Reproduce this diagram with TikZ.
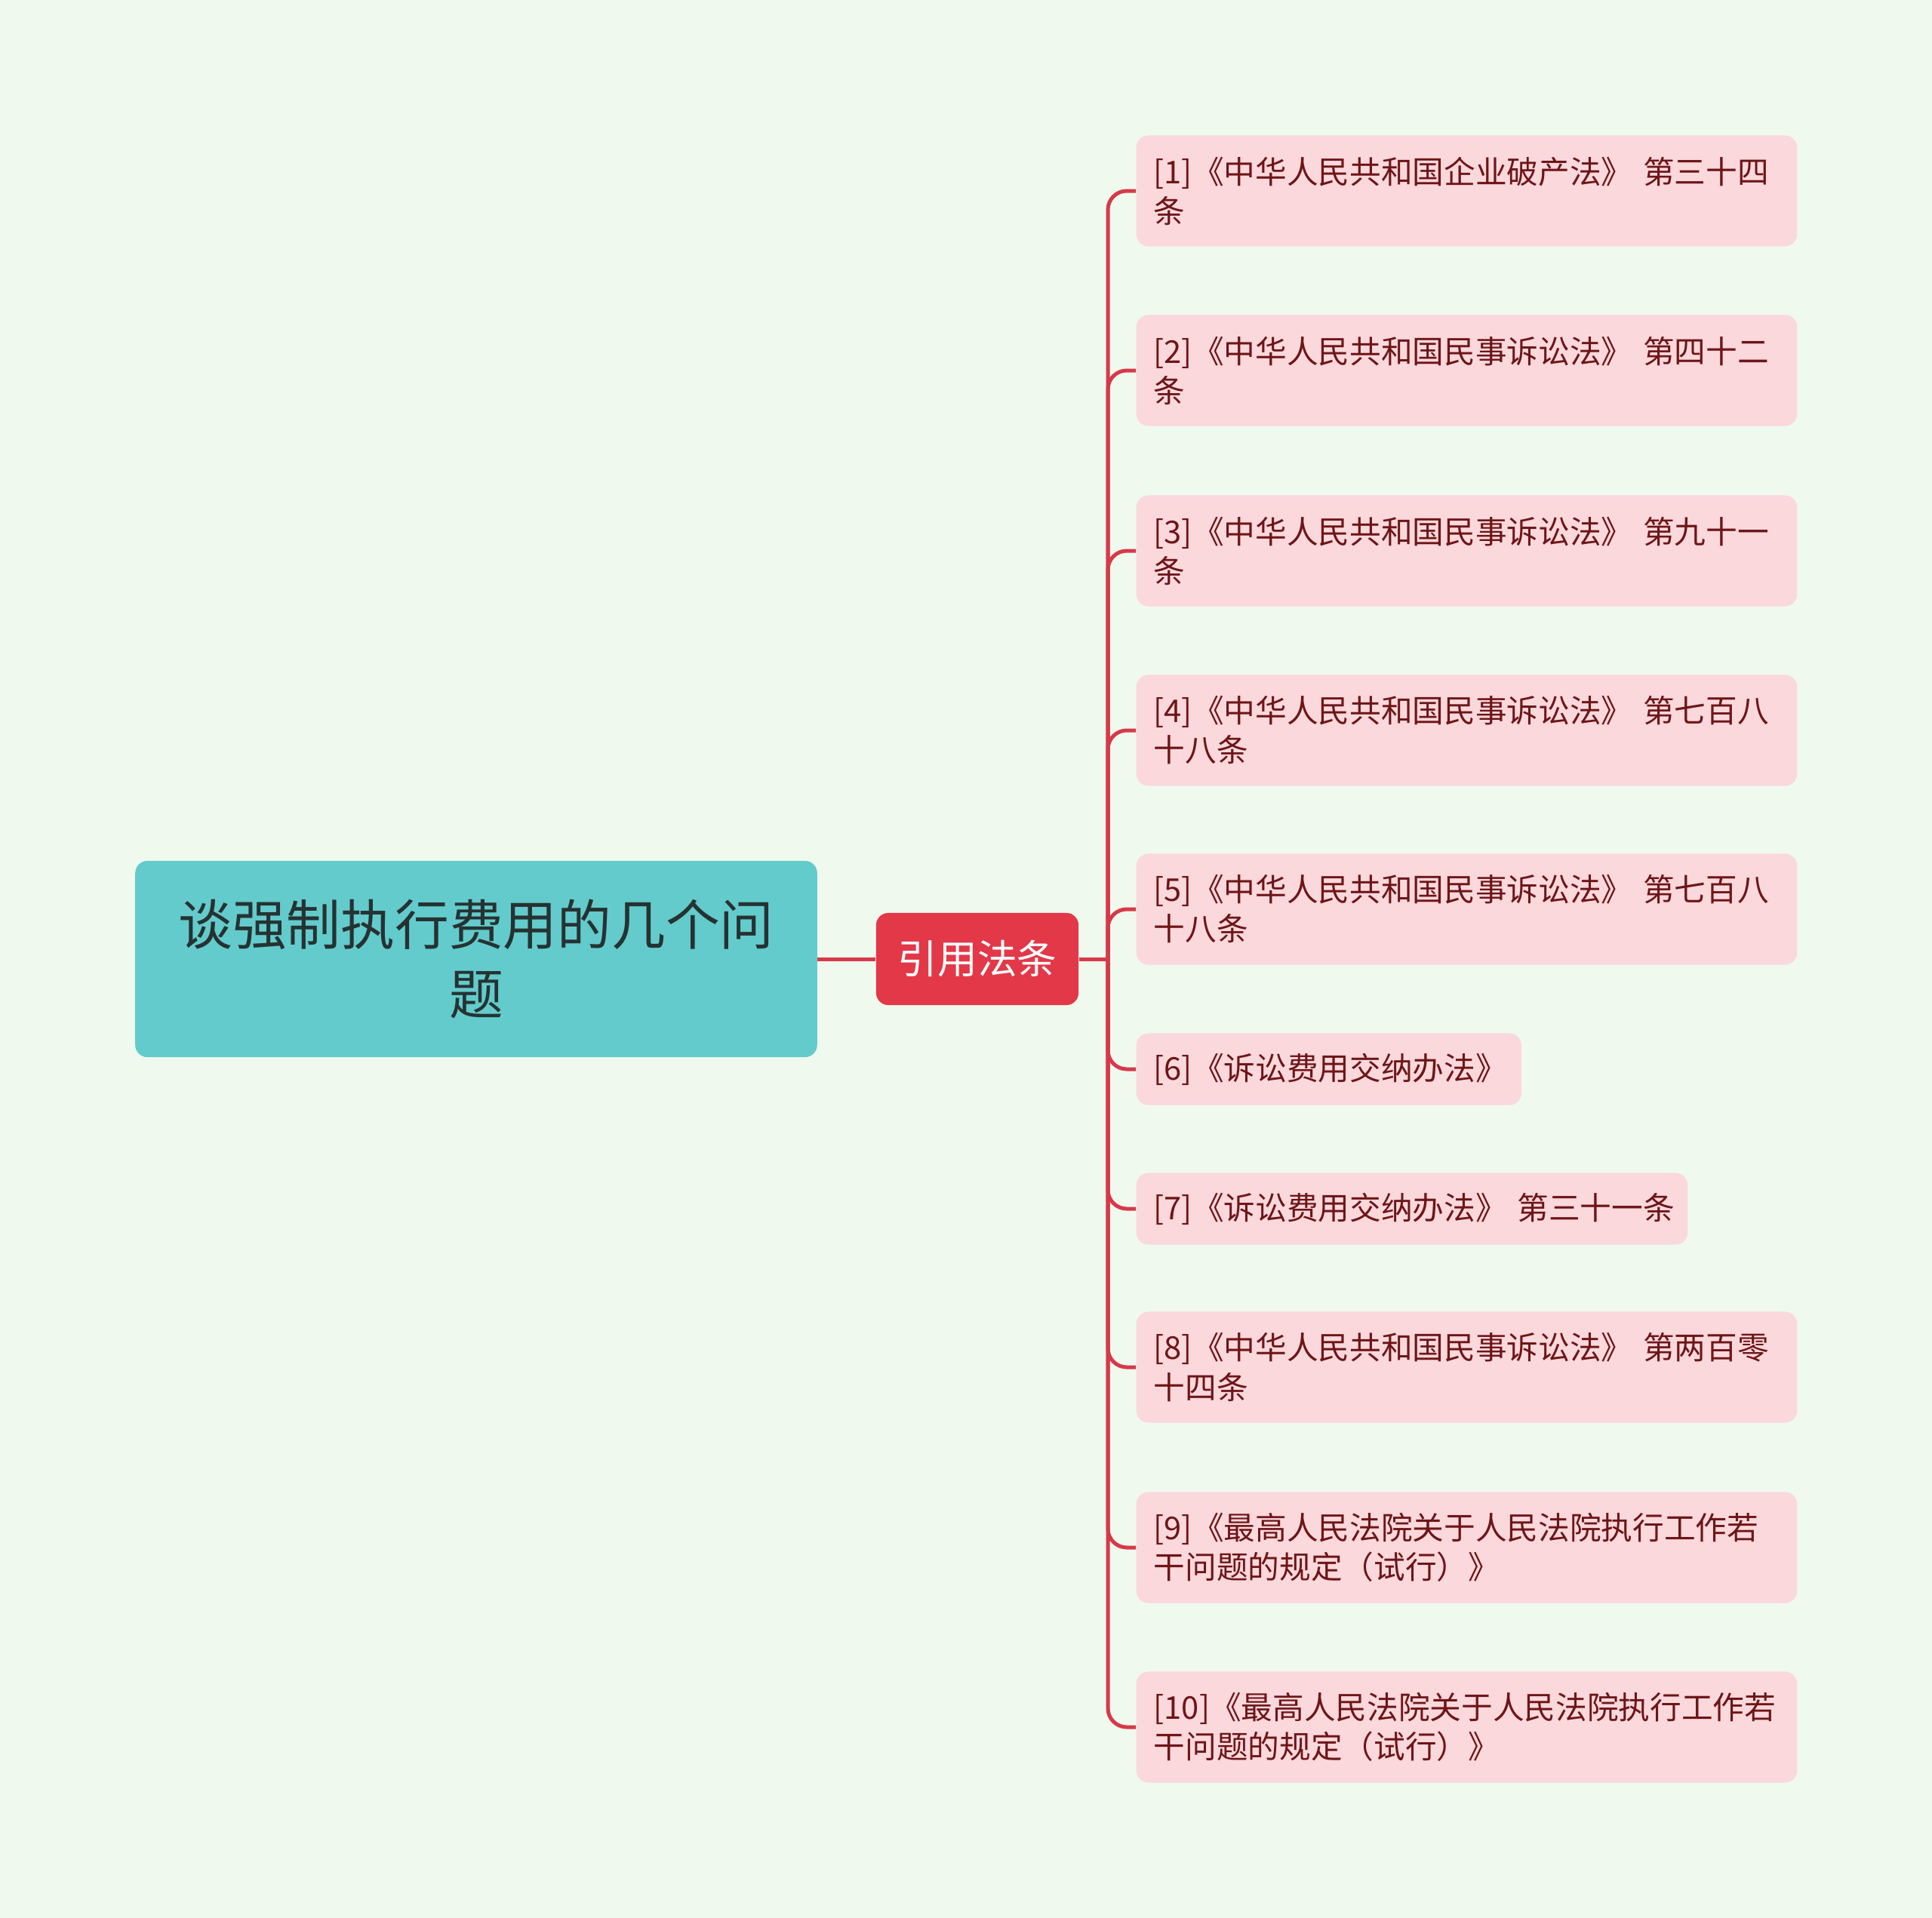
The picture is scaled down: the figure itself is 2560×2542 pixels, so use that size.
\documentclass[tikz,border=0pt]{standalone}
\usepackage{fontspec}
\setmainfont{Noto Sans CJK SC}
\usepackage{xcolor}
\definecolor{PageBg}{HTML}{F0F9EE}
\definecolor{RootTeal}{HTML}{63CBCC}
\definecolor{RootInk}{HTML}{263232}
\definecolor{MidRed}{HTML}{E33848}
\definecolor{LeafPink}{HTML}{FAD8DC}
\definecolor{LeafInk}{HTML}{6E1518}
\definecolor{LinkRed}{HTML}{D63A4A}

\begin{document}
\begin{tikzpicture}[x=0.01cm,y=-0.01cm,
    rootbox/.style={fill=RootTeal,text=RootInk,rounded corners=0.16cm,minimum width=9.03cm,minimum height=2.6cm,align=center,inner sep=0pt,font=\fontsize{20.4pt}{25.9pt}\selectfont},
    midbox/.style={fill=MidRed,text=white,rounded corners=0.16cm,minimum width=2.68cm,minimum height=1.22cm,inner sep=0pt,font=\fontsize{15pt}{18pt}\selectfont},
    leafbox/.style={fill=LeafPink,text=LeafInk,rounded corners=0.16cm,anchor=west,align=left,inner xsep=0.23cm,inner ysep=0pt,font=\fontsize{11.85pt}{14.8pt}\selectfont},
    twoline/.style={leafbox,minimum height=1.47cm,text width=8.29cm},
    oneline/.style={leafbox,minimum height=0.95cm},
    link/.style={LinkRed,line width=0.05cm}]
                \fill[PageBg] (0,0) rectangle (2560,2542);

                \node[rootbox] (root) at (631,1271) {谈强制执行费用的几个问\\题};
                \node[midbox] (mid) at (1295,1271) {引用法条};
                \coordinate (fork) at (1468,1271);

                \node[twoline] (leaf1) at (1505,253) {[1]《中华人民共和国企业破产法》 第三十四\\条};
                \node[twoline] (leaf2) at (1505,491) {[2]《中华人民共和国民事诉讼法》 第四十二\\条};
                \node[twoline] (leaf3) at (1505,730) {[3]《中华人民共和国民事诉讼法》 第九十一\\条};
                \node[twoline] (leaf4) at (1505,968) {[4]《中华人民共和国民事诉讼法》 第七百八\\十八条};
                \node[twoline] (leaf5) at (1505,1205) {[5]《中华人民共和国民事诉讼法》 第七百八\\十八条};
                \node[oneline,text width=4.64cm] (leaf6) at (1505,1417) {[6]《诉讼费用交纳办法》};
                \node[oneline,text width=6.84cm] (leaf7) at (1505,1602) {\mbox{[7]《诉讼费用交纳办法》 第三十一条}};
                \node[twoline] (leaf8) at (1505,1812) {[8]《中华人民共和国民事诉讼法》 第两百零\\十四条};
                \node[twoline] (leaf9) at (1505,2051) {[9]《最高人民法院关于人民法院执行工作若\\干问题的规定（试行）》};
                \node[twoline] (leaf10) at (1505,2289) {[10]《最高人民法院关于人民法院执行工作若\\干问题的规定（试行）》};

                \draw[link] (root.east) -- (mid.west);
                \draw[link] (mid.east) -- (fork);
                \foreach \n in {1,...,10} {
                    \draw[link,rounded corners=0.25cm] (fork) |- (leaf\n.west);
                }
            \end{tikzpicture}
\end{document}
